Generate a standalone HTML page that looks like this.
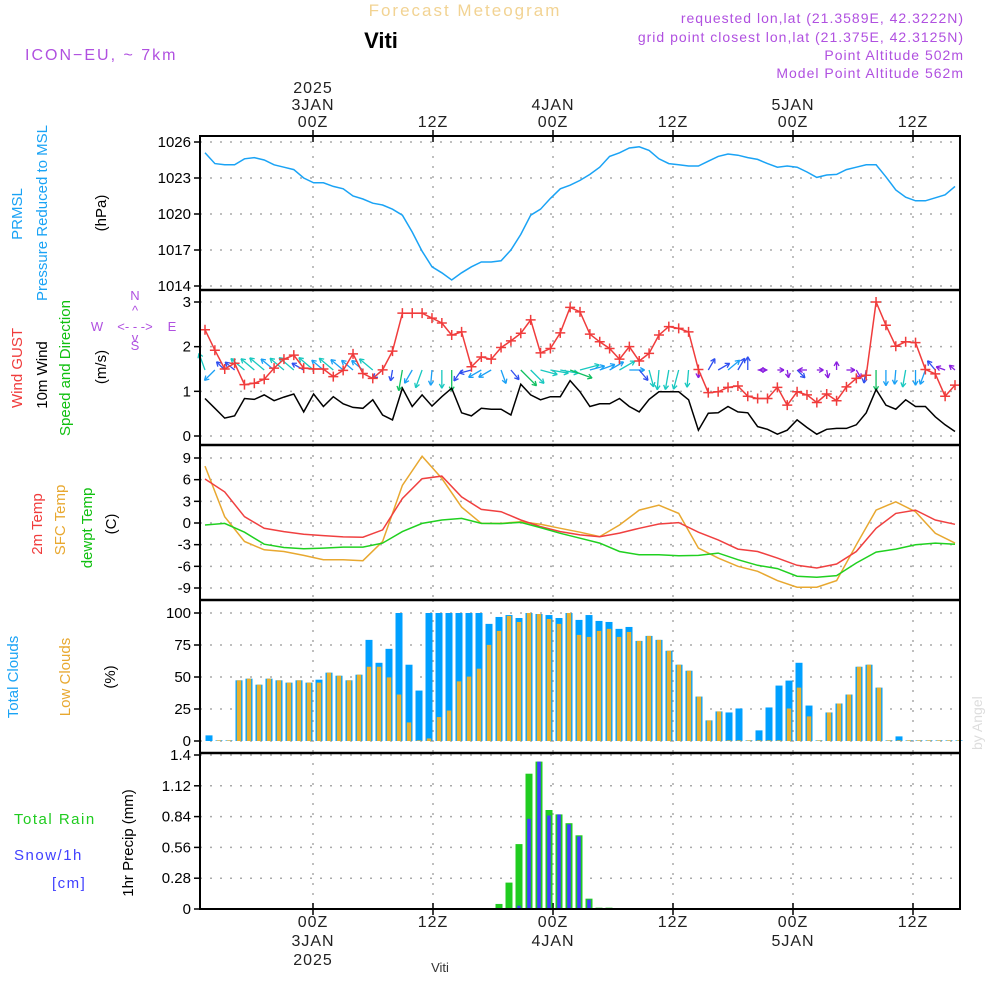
<!DOCTYPE html>
<html><head><meta charset="utf-8"><style>
body{margin:0;background:#fff;width:1000px;height:1000px;overflow:hidden}
svg{display:block}
text{font-family:"Liberation Sans",sans-serif}
</style></head><body>
<svg id="c" width="1000" height="1000" xmlns="http://www.w3.org/2000/svg">
<text x="465" y="16" font-size="17" fill="#f2d393" text-anchor="middle" letter-spacing="2">Forecast Meteogram</text>
<text x="381" y="48" font-size="22" font-weight="bold" font-family="Liberation Serif" fill="#000" text-anchor="middle">Viti</text>
<g font-size="14" fill="#b050e0" text-anchor="end" letter-spacing="1">
<text x="964" y="23">requested lon,lat (21.3589E, 42.3222N)</text>
<text x="964" y="42">grid point closest lon,lat (21.375E, 42.3125N)</text>
<text x="964" y="60">Point Altitude 502m</text>
<text x="964" y="78">Model Point Altitude 562m</text>
</g>
<text x="25" y="60" font-size="16" fill="#b050e0" letter-spacing="2">ICON−EU, ~ 7km</text>
<text transform="translate(982,750) rotate(-90)" font-size="14" fill="#ddd" font-family="Liberation Serif">by Angel</text>
<g id="g"></g>
</svg>
<script>
// ---- data ----
const pressure=[1025.1,1024.2,1024.1,1024.1,1024.6,1024.7,1024.5,1024.1,1023.9,1023.7,1023.0,1022.6,1022.6,1022.3,1022.1,1021.5,1021.25,1020.9,1020.75,1020.4,1019.9,1018.5,1016.9,1015.6,1015.1,1014.5,1015.1,1015.6,1016.0,1016.0,1016.1,1017.0,1018.3,1019.9,1020.4,1021.3,1022.1,1022.4,1022.8,1023.3,1023.9,1024.8,1025.1,1025.5,1025.6,1025.3,1024.6,1024.2,1024.1,1024.0,1024.0,1024.4,1024.8,1025.0,1024.9,1024.7,1024.55,1024.2,1023.9,1024.0,1023.9,1023.5,1023.05,1023.25,1023.3,1023.7,1023.9,1024.1,1024.1,1023.1,1022.0,1021.4,1021.1,1021.1,1021.35,1021.6,1022.3];
const gust=[2.38,1.92,1.5,1.63,1.15,1.18,1.27,1.52,1.72,1.81,1.52,1.5,1.5,1.33,1.47,1.84,1.4,1.29,1.48,1.9,2.75,2.75,2.75,2.64,2.53,2.26,2.33,1.55,1.77,1.72,1.98,2.13,2.3,2.6,1.86,1.96,2.31,2.88,2.78,2.28,2.11,1.96,1.72,2.0,1.68,1.85,2.26,2.45,2.41,2.33,1.49,0.97,0.99,1.09,1.12,0.89,0.84,0.84,1.09,0.69,0.99,0.92,0.75,0.94,0.79,1.1,1.29,1.36,3.0,2.48,2.01,2.11,2.09,1.49,1.39,0.89,1.14];
const wind=[0.84,0.62,0.4,0.45,0.84,0.82,0.92,0.79,0.87,0.94,0.54,0.94,0.66,0.88,0.72,0.64,0.62,0.81,0.47,0.36,1.07,0.66,0.92,0.67,0.88,1.07,0.52,0.45,0.62,0.6,0.6,0.47,1.16,0.92,0.81,0.88,0.88,1.24,0.99,0.66,0.72,0.72,0.84,0.66,0.54,0.82,0.99,0.99,0.99,0.81,0.13,0.51,0.52,0.66,0.54,0.52,0.21,0.15,0.04,0.13,0.36,0.19,0.04,0.15,0.17,0.17,0.25,0.52,1.04,0.69,0.6,0.81,0.66,0.66,0.43,0.25,0.1];
const windDir=[250,135,225,220,220,220,220,220,220,220,210,220,220,220,220,220,220,220,140,100,100,120,110,95,90,90,125,165,150,150,70,50,45,45,15,10,10,20,345,345,340,330,330,0,50,75,95,100,105,95,90,300,330,320,300,270,0,180,0,80,45,180,0,80,270,0,60,100,90,90,95,100,90,110,230,200,220];
const temp2m=[6.09,4.3,0.87,-0.73,-1.19,-1.56,-1.74,-1.92,-1.97,-0.96,3.39,6.14,6.5,3.62,1.88,1.56,0.41,-0.5,-1.19,-1.65,-1.9,-1.4,-0.73,-0.14,0.05,-1.28,-2.34,-3.62,-3.94,-4.86,-5.86,-6.23,-5.68,-3.94,-0.73,1.33,1.79,0.41,-0.18];
const tempSfc=[7.88,0.87,-2.56,-3.71,-3.94,-4.49,-5.08,-5.08,-5.22,-2.56,5.22,9.25,6.18,2.2,-0.05,-0.05,0.18,-0.18,-0.73,-1.28,-1.88,-0.27,1.79,2.47,1.33,-3.48,-4.86,-6.0,-6.69,-7.97,-8.89,-8.89,-7.97,-3.02,1.79,2.93,1.56,-1.42,-2.79];
const dewpt=[-0.27,-0.05,-1.28,-2.93,-3.39,-3.57,-3.48,-3.34,-3.34,-2.79,-1.19,-0.05,0.41,0.64,-0.05,-0.09,0.09,-0.64,-1.42,-2.1,-2.79,-3.94,-4.4,-4.4,-4.53,-4.49,-4.17,-5.08,-5.86,-6.32,-7.37,-7.51,-7.28,-5.54,-4.03,-3.62,-3.02,-2.79,-2.93];
const totalClouds=[4.4,0.5,0.5,47.4,48.7,44,48.7,47.4,45.6,47.4,45.6,47.9,53.4,51,47.4,51.8,79,61.1,72,100,59.6,39.4,100,100,100,100,100,100,91.5,96.9,98.4,96.1,100,99.2,98.4,96.1,100,94.6,98.4,93.8,93,87.6,89.1,78.2,82.1,79,70.5,59.6,54.9,34.7,16.1,23.1,22.3,25.4,0.5,8.3,26.2,43.3,47.2,61.1,27.7,0.5,22.3,29.3,36.3,58,59.6,41.7,0.5,3.6,0.5,0.5,0.5,0.5,0.5,0.5];
const lowClouds=[0,0.5,0.5,47.4,48.7,44,48.7,47.4,45.6,47.4,45.6,45.6,53.4,51,47.4,51.8,58,58,49.7,36.3,14.5,0.5,2,18.7,23.8,46.6,50.3,56.5,75.1,86,97.7,93,100,99.2,95.3,91.5,100,82.9,81.3,86,87.6,81.3,85.2,78.2,82.1,79,70.5,59.6,54.9,34.7,16.1,23.1,0.5,0.5,0.5,0.5,0.5,0.5,25.4,41.7,19.2,0.5,22.3,29.3,36.3,58,59.6,41.7,0.5,0.5,0.5,0.5,0.5,0.5,0.5,0.5];
const rain=[0,0,0,0,0,0,0,0,0,0,0,0,0,0,0,0,0,0,0,0,0,0,0,0,0,0,0,0,0,0.046,0.24,0.59,1.23,1.34,0.9,0.86,0.78,0.67,0.094,0.012,0.012,0,0,0,0,0,0,0,0,0,0,0,0,0,0,0,0,0,0,0,0,0,0,0,0,0,0,0,0,0,0,0,0,0,0,0];
const snow=[0,0,0,0,0,0,0,0,0,0,0,0,0,0,0,0,0,0,0,0,0,0,0,0,0,0,0,0,0,0,0,0.03,0.82,1.34,0.85,0.86,0.77,0.66,0.085,0.005,0,0,0,0,0,0,0,0,0,0,0,0,0,0,0,0,0,0,0,0,0,0,0,0,0,0,0,0,0,0,0,0,0,0,0,0];
const pTicks=[1026,1023,1020,1017,1014];
const wTicks=[3,2,1,0];
const tTicks=[9,6,3,0,-3,-6,-9];
const cTicks=[100,75,50,25,0];
const rTicks=[1.4,1.12,0.84,0.56,0.28,0];
const timeLabels=[["2025","3JAN","00Z"],["12Z"],["4JAN","00Z"],["12Z"],["5JAN","00Z"],["12Z"]];
const timeHours=[11,23,35,47,59,71];

const NS='http://www.w3.org/2000/svg';
const G=document.getElementById('g');
function el(tag,attrs,parent){const e=document.createElementNS(NS,tag);for(const k in attrs)e.setAttribute(k,attrs[k]);(parent||G).appendChild(e);return e;}
const L=200,R=960;
const xHour=h=>203+h*10;
const xLine=(i,n)=>205+i*750/(n-1);
const xBar=k=>209+k*10;
const lin=(v0,y0,v1,y1)=>v=>y0+(v-v0)*(y1-y0)/(v1-v0);
const yP=lin(1026,142,1014,286), yW=lin(3,302,0,436), yT=lin(9,458,-9,588), yC=lin(100,613,0,741), yR=lin(1.4,755,0,909);
const panels=[[136,290,pTicks,yP,'pressure'],[290,445,wTicks,yW,'wind'],[445,600,tTicks,yT,'temperature'],[600,753,cTicks,yC,'clouds'],[753,909,rTicks,yR,'precip']];
panels.forEach(([t,b,ticks,ys,nm])=>{
  ticks.forEach(v=>{const y=ys(v);
    const gl=el('line',{x1:L,x2:R,y1:y,y2:y,stroke:'#aaa','stroke-width':1.5,'stroke-dasharray':'2 8'});
    
    
    const tk=el('line',{x1:L-6,x2:L,y1:y,y2:y,stroke:'#000','stroke-width':1.5});
    
    
    const tx=el('text',{x:L-9,y:y+5,'font-size':15,'text-anchor':'end',fill:'#000'});tx.textContent=v;
    
    
  });
  timeHours.forEach(h=>{const x=xHour(h);
    const vl=el('line',{x1:x,x2:x,y1:t,y2:b,stroke:'#aaa','stroke-width':1.5,'stroke-dasharray':'2 8'});
    
    
  });
});
timeHours.forEach((h,j)=>{const x=xHour(h);
  const top=timeLabels[j];
  top.forEach((s,k)=>{const t=el('text',{x:x,y:127-(top.length-1-k)*17,'font-size':16,'text-anchor':'middle',fill:'#222','letter-spacing':1});t.textContent=s;
    
    });
  const bot=top.slice().reverse();
  bot.forEach((s,k)=>{const t=el('text',{x:x,y:927+k*19,'font-size':16,'text-anchor':'middle',fill:'#222','letter-spacing':1});t.textContent=s;
    
    });
  [136,909].forEach(y=>{const tk=el('line',{x1:x,x2:x,y1:y-6,y2:y+6,stroke:'#000','stroke-width':1.5});
    
    });
});
const vt=el('text',{x:440,y:972,'font-size':13,'font-family':'Liberation Serif','text-anchor':'middle',fill:'#333'});vt.textContent='Viti';


function poly(arr,xf,yf,color,nm,w){const pts=arr.map((v,i)=>xf(i,arr.length).toFixed(1)+','+yf(v).toFixed(1)).join(' ');
  const p=el('polyline',{points:pts,fill:'none',stroke:color,'stroke-width':w||1.5});
  
  return p;}
poly(pressure,xLine,yP,'#1aa3f5','pressure-line');
wind.forEach((s,i)=>{const x=xLine(i,wind.length),y=370;const a=windDir[i]*Math.PI/180;const len=6+s*14;
  const x2=x+Math.cos(a)*len,y2=y+Math.sin(a)*len;
  const col=s<0.3?'#8a1ee0':s<0.6?'#2f4ff0':s<0.8?'#1aa0f5':s<1.0?'#18c8c0':'#10c060';
  const g=el('g',{stroke:col,'stroke-width':1.3,fill:'none'});
  
  
  el('line',{x1:x,y1:y,x2:x2,y2:y2},g);
  const h=5;[2.6,-2.6].forEach(d=>el('line',{x1:x2,y1:y2,x2:x2-Math.cos(a+d*0.2)*h,y2:y2-Math.sin(a+d*0.2)*h},g));
});
poly(wind,xLine,yW,'#000','wind-speed-line');
poly(gust,xLine,yW,'#f03c3c','gust-line');
gust.forEach((v,i)=>{const x=xLine(i,gust.length),y=yW(v);
  const m=el('path',{d:`M${x-5},${y}h10M${x},${y-5}v10`,stroke:'#f03c3c','stroke-width':1.5});
  
  });
poly(tempSfc,xLine,yT,'#e8a830','sfc-temp-line');
poly(temp2m,xLine,yT,'#f04040','temp-2m-line');
poly(dewpt,xLine,yT,'#20d020','dewpoint-line');
totalClouds.forEach((v,k)=>{const x=xBar(k);
  const b=el('rect',{x:x-3.5,y:yC(v),width:7,height:yC(0)-yC(v),fill:'#00a0ff'});
  
  
  const o=el('rect',{x:x-2.2,y:yC(lowClouds[k]),width:4.4,height:yC(0)-yC(lowClouds[k]),fill:'#e8b030'});
  
  });
rain.forEach((v,k)=>{const x=xBar(k);
  if(v>0){const b=el('rect',{x:x-3.5,y:yR(v),width:7,height:yR(0)-yR(v),fill:'#20cc20'});
  
  }
  if(snow[k]>0){const s=el('rect',{x:x-1.8,y:yR(snow[k]),width:3.6,height:yR(0)-yR(snow[k]),fill:'#4040ff'});
  
  }});
const fr=el('rect',{x:L,y:136,width:R-L,height:773,fill:'none',stroke:'#000','stroke-width':2});


[290,445,600,753].forEach(y=>{const d=el('line',{x1:L,x2:R,y1:y,y2:y,stroke:'#000','stroke-width':2.5});
  
  });
function vtext(x,y,s,col,nm,fs){const t=el('text',{transform:`translate(${x},${y}) rotate(-90)`,'font-size':fs||15,fill:col,'text-anchor':'middle'});t.textContent=s;
  
  return t;}
vtext(22,214,'PRMSL','#1aa3f5','pressure-title-1');
vtext(47,213,'Pressure Reduced to MSL','#1aa3f5','pressure-title-2');
vtext(106,213,'(hPa)','#000','pressure-unit');
vtext(22,368,'Wind GUST','#f03c3c','gust-title');
vtext(47,375,'10m Wind','#000','wind-title');
vtext(70,368,'Speed and Direction','#10c010','wind-dir-title');
vtext(106,367,'(m/s)','#000','wind-unit');
vtext(42,524,'2m Temp','#f03c3c','temp-title');
vtext(65,520,'SFC Temp','#e8a830','sfc-title');
vtext(92,528,'dewpt Temp','#10c010','dewpt-title');
vtext(116,524,'(C)','#000','temp-unit');
vtext(18,677,'Total Clouds','#1aa3f5','total-cloud-title');
vtext(70,677,'Low Clouds','#e8a830','low-cloud-title');
vtext(115,677,'(%)','#000','cloud-unit');
vtext(133,843,'1hr Precip (mm)','#000','precip-unit');
const cl=[['Total  Rain',14,824,'#20cc20','rain-legend'],['Snow/1h',14,860,'#4040ff','snow-legend'],['[cm]',52,888,'#4040ff','snow-unit']];
cl.forEach(([s,x,y,c,n])=>{const t=el('text',{x:x,y:y,'font-size':15,fill:c,'letter-spacing':1.5,'xml:space':'preserve'});t.textContent=s;
  
  });
const comp=el('g',{fill:'#b050e0',stroke:'none','font-size':13,'text-anchor':'middle'});


[['N',135,300],['W',97,331],['E',172,331],['S',135,350],['<- - ->',135,331],['^',135,315],['v',135,342]].forEach(([s,x,y])=>{const t=el('text',{x:x,y:y},comp);t.textContent=s;});
</script>
</body></html>
